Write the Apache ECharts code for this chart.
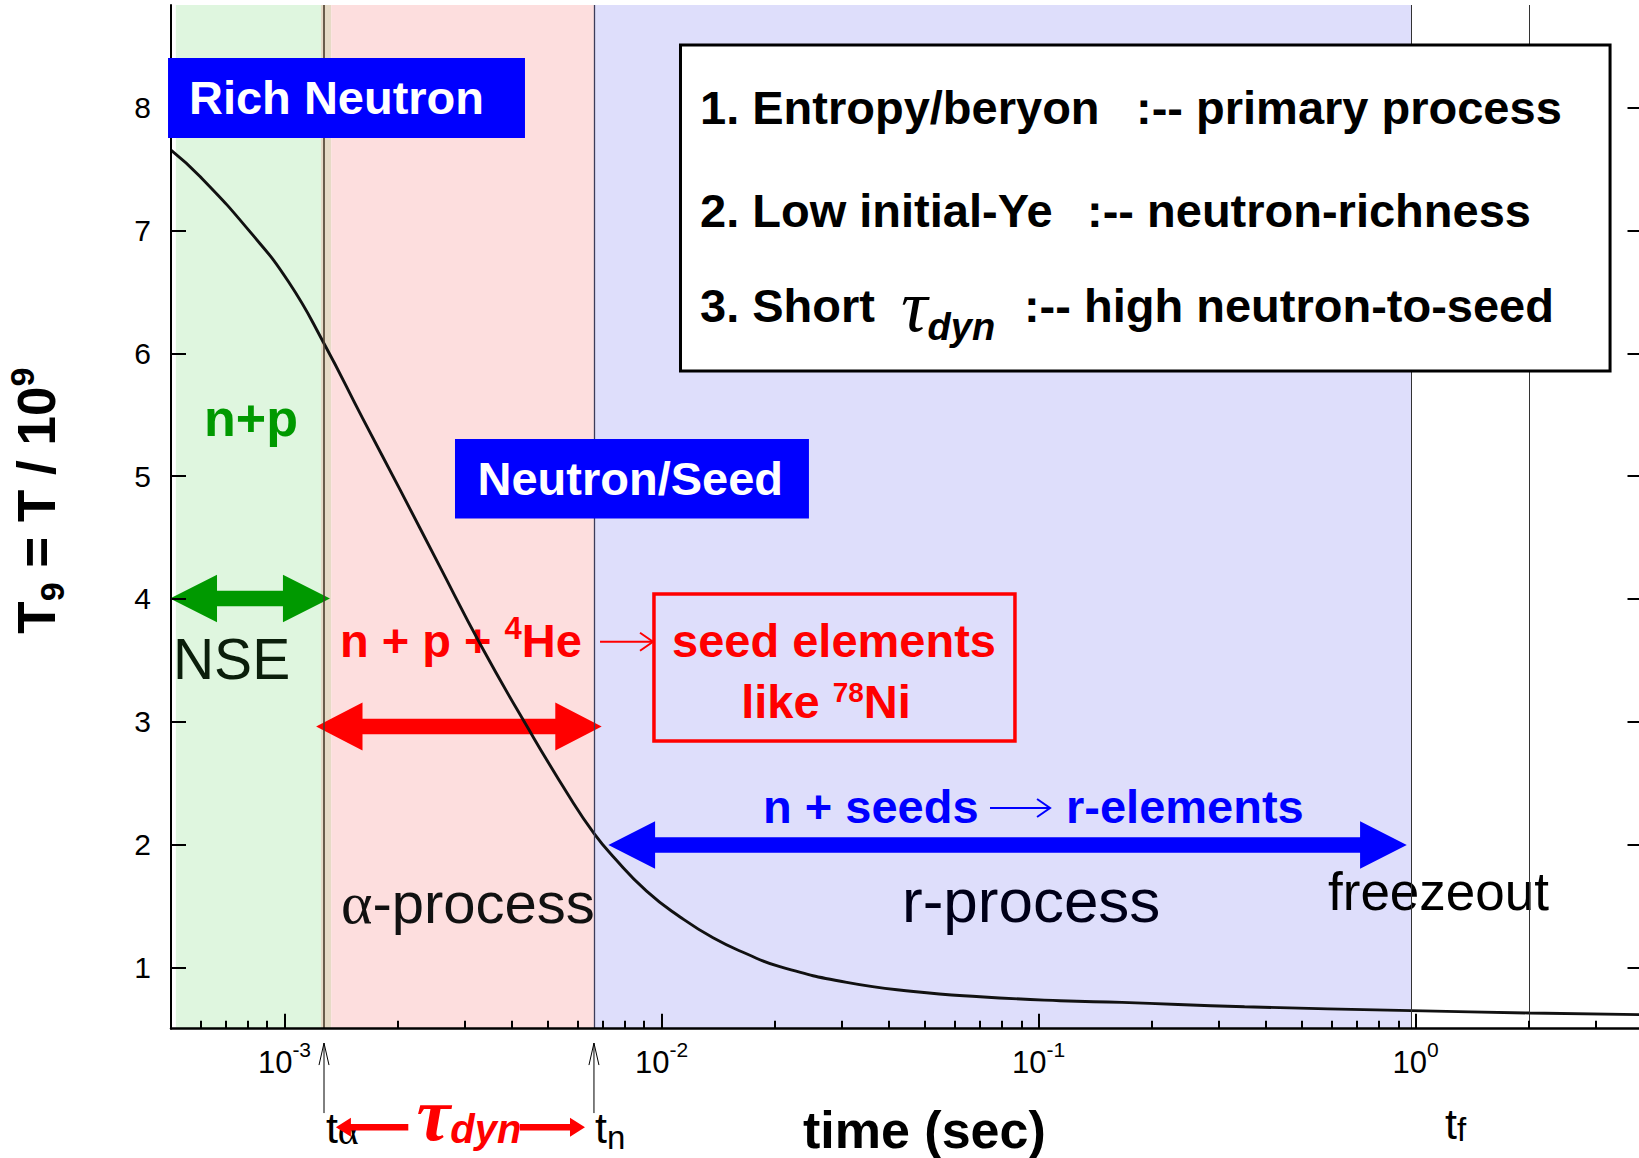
<!DOCTYPE html>
<html><head><meta charset="utf-8">
<script src="https://cdn.jsdelivr.net/npm/echarts@6/dist/echarts.min.js"></script>
<style>html,body{margin:0;padding:0;background:#fff}#c{width:1639px;height:1158px}</style>
</head><body><div id="c"></div>
<script>
// ---------------- DATA ----------------
const timeSec = [5.0e-4, 5.97e-4, 8.15e-4, 1.026e-3, 1.273e-3, 1.612e-3, 2.025e-3, 2.585e-3, 3.32e-3, 4.42e-3, 5.72e-3, 6.62e-3, 7.45e-3, 9.13e-3, 0.0112, 0.0137, 0.0168, 0.0206, 0.031, 0.0466, 0.070, 0.114, 0.1665, 0.352, 0.973, 2.0, 4.0];
const temperatureT9 = [7.655, 7.44, 6.98, 6.58, 6.08, 5.47, 4.89, 4.26, 3.62, 2.95, 2.38, 2.09, 1.90, 1.62, 1.41, 1.24, 1.11, 1.005, 0.877, 0.803, 0.760, 0.728, 0.714, 0.679, 0.647, 0.628, 0.614];
const yTickValues = [1, 2, 3, 4, 5, 6, 7, 8];
const xMajorExponents = [-3, -2, -1, 0];
const xMinorTickTimes = [6e-4, 7e-4, 8e-4, 9e-4, 2e-3, 3e-3, 4e-3, 5e-3, 6e-3, 7e-3, 8e-3, 9e-3, 0.02, 0.03, 0.04, 0.05, 0.06, 0.07, 0.08, 0.09, 0.2, 0.3, 0.4, 0.5, 0.6, 0.7, 0.8, 0.9, 2, 3];
const boundaryTimes = [1.273e-3, 6.62e-3, 0.973, 2.0];      // t_alpha, t_n, t_f, extra line
const regionTimes = [[5.15e-4, 1.25e-3], [1.25e-3, 1.33e-3], [1.33e-3, 6.62e-3], [6.62e-3, 0.973]];
const xRange = [5e-4, 4];
const yRange = [0.5, 8.836];

// ---------------- STYLES ----------------
const regionColors = ['#DFF6DF', '#E6DAC6', '#FDDEDE', '#DEDEFB'];
const boundaryStyles = [
  {color: '#4a3c2c', width: 1.6}, {color: '#3c3c5a', width: 1.3}, {color: '#333', width: 1}, {color: '#333', width: 1}
];
const SANS = '"Liberation Sans", Arial, Helvetica, sans-serif';
const SERIF = '"Liberation Serif", "Times New Roman", serif';

const chart = echarts.init(document.getElementById('c'), null, {renderer: 'svg', width: 1639, height: 1158});
const LOG_MIN = Math.log10(xRange[0]), LOG_MAX = Math.log10(xRange[1]);

const option = {
  animation: false,
  backgroundColor: '#fff',
  grid: {left: 171, right: -3.5, top: 5, bottom: 129.3, outerBoundsMode: 'none'},
  xAxis: [
    {type: 'log', logBase: 10, min: xRange[0], max: xRange[1], position: 'bottom', z: 5,
     axisLine: {show: true, onZero: false, lineStyle: {color: '#000', width: 2.5}},
     axisTick: {show: false}, axisLabel: {show: false}, splitLine: {show: false}},
    {type: 'value', min: LOG_MIN, max: LOG_MAX, position: 'bottom', z: 5,
     axisLine: {show: false, onZero: false},
     axisTick: {show: true, inside: true, length: 15, customValues: xMajorExponents, lineStyle: {color: '#000', width: 2}},
     axisLabel: {show: true, customValues: xMajorExponents, margin: 10,
       formatter: v => '{b|10}{s|' + Math.round(v) + '}',
       rich: {b: {fontSize: 31, fontFamily: SANS, color: '#000', lineHeight: 47},
              s: {fontSize: 21, fontFamily: SANS, color: '#000', lineHeight: 21, verticalAlign: 'top'}}},
     splitLine: {show: false}},
    {type: 'value', min: LOG_MIN, max: LOG_MAX, position: 'bottom', z: 5,
     axisLine: {show: false, onZero: false},
     axisTick: {show: true, inside: true, length: 8, customValues: xMinorTickTimes.map(t => Math.log10(t)), lineStyle: {color: '#000', width: 2}},
     axisLabel: {show: false}, splitLine: {show: false}}
  ],
  yAxis: [
    {type: 'value', min: yRange[0], max: yRange[1], position: 'left', z: 5,
     axisLine: {show: true, onZero: false, lineStyle: {color: '#000', width: 2}},
     axisTick: {show: true, inside: true, length: 15, customValues: yTickValues, lineStyle: {color: '#000', width: 2}},
     axisLabel: {show: true, customValues: yTickValues, margin: 20, fontSize: 30, fontFamily: SANS, color: '#000'},
     splitLine: {show: false}},
    {type: 'value', min: yRange[0], max: yRange[1], position: 'right', z: 5,
     axisLine: {show: true, onZero: false, lineStyle: {color: '#000', width: 2}},
     axisTick: {show: true, inside: true, length: 15, customValues: yTickValues, lineStyle: {color: '#000', width: 2}},
     axisLabel: {show: false}, splitLine: {show: false}}
  ],
  series: [
    {name: 'phases', type: 'line', xAxisIndex: 0, yAxisIndex: 0, z: 1, silent: true,
     data: timeSec.map((t, i) => [t, temperatureT9[i]]), showSymbol: false,
     lineStyle: {width: 0, opacity: 0},
     markArea: {silent: true, data: regionTimes.map((r, i) => [{xAxis: r[0], itemStyle: {color: regionColors[i]}}, {xAxis: r[1]}])},
     markLine: {silent: true, symbol: 'none', precision: 8, label: {show: false},
       data: boundaryTimes.map((t, i) => ({xAxis: t, lineStyle: Object.assign({type: 'solid'}, boundaryStyles[i])}))}},
    {name: 'T9', type: 'line', xAxisIndex: 0, yAxisIndex: 0, z: 4,
     data: timeSec.map((t, i) => [t, temperatureT9[i]]),
     showSymbol: false, smooth: 0.5,
     lineStyle: {color: '#111', width: 2.9}}
  ]
};
chart.setOption(option);

// ---------------- ANNOTATIONS (anchored in data coordinates) ----------------
const P = (t, v) => chart.convertToPixel({xAxisIndex: 0, yAxisIndex: 0}, [t, v]);
const G = [];
function box(a, b, style, z) {
  const p1 = P(a[0], a[1]), p2 = P(b[0], b[1]);
  G.push({type: 'rect', z: z, shape: {x: Math.min(p1[0], p2[0]), y: Math.min(p1[1], p2[1]), width: Math.abs(p2[0] - p1[0]), height: Math.abs(p2[1] - p1[1])}, style: style});
}
function txt(anchor, style, z, rot) {
  const p = P(anchor[0], anchor[1]);
  G.push({type: 'text', z: z, x: p[0], y: p[1], rotation: rot || 0, style: Object.assign({verticalAlign: 'middle', align: 'left', fontFamily: SANS}, style)});
}
function dblArrow(t1, t2, v, color, hl, hh, sh) {
  const a = P(t1, v), b = P(t2, v); const y = a[1], xL = a[0], xR = b[0];
  G.push({type: 'polygon', z: 3, shape: {points: [[xL, y], [xL + hl, y - hh], [xL + hl, y - sh], [xR - hl, y - sh], [xR - hl, y - hh], [xR, y], [xR - hl, y + hh], [xR - hl, y + sh], [xL + hl, y + sh], [xL + hl, y + hh]]}, style: {fill: color}});
}
function oneArrow(tTail, tTip, v, color, hl, hh, sh) {
  const a = P(tTail, v), b = P(tTip, v); const y = a[1]; const d = Math.sign(b[0] - a[0]);
  const base = b[0] - d * hl;
  G.push({type: 'polygon', z: 3, shape: {points: [[a[0], y - sh], [base, y - sh], [base, y - hh], [b[0], y], [base, y + hh], [base, y + sh], [a[0], y + sh]]}, style: {fill: color}});
}
function thinArrowH(t1, t2, v, color) {
  const a = P(t1, v), b = P(t2, v); const y = a[1];
  G.push({type: 'polyline', z: 3, shape: {points: [[a[0], y], [b[0], y]]}, style: {stroke: color, lineWidth: 2, fill: null}});
  G.push({type: 'polyline', z: 3, shape: {points: [[b[0] - 13, y - 9], [b[0], y], [b[0] - 13, y + 9]]}, style: {stroke: color, lineWidth: 2, fill: null}});
}
function thinArrowUp(t, v0, v1) {
  const a = P(t, v0), b = P(t, v1);
  G.push({type: 'polyline', z: 3, shape: {points: [[a[0], a[1]], [b[0], b[1]]]}, style: {stroke: '#000', lineWidth: 1, fill: null}});
  G.push({type: 'polyline', z: 3, shape: {points: [[b[0] - 5, b[1] + 22], [b[0], b[1]], [b[0] + 5, b[1] + 22]]}, style: {stroke: '#000', lineWidth: 1, fill: null}});
}

// y-axis title
txt([2.2e-4, 4.80], {align: 'center', text: '{t|T}{sub|9}{t| = T / 10}{sup|9}', rich: {
  t: {fontSize: 53, fontWeight: 'bold', fontFamily: SANS, fill: '#000', lineHeight: 64},
  sub: {fontSize: 34, fontWeight: 'bold', fontFamily: SANS, fill: '#000', lineHeight: 26, verticalAlign: 'bottom'},
  sup: {fontSize: 34, fontWeight: 'bold', fontFamily: SANS, fill: '#000', lineHeight: 26, verticalAlign: 'top'}}}, 10, Math.PI / 2);

// "Rich Neutron" box
box([4.91e-4, 8.405], [4.344e-3, 7.753], {fill: '#0000FF'}, 20);
txt([5.58e-4, 8.083], {text: 'Rich Neutron', fontSize: 47, fontWeight: 'bold', fill: '#fff'}, 21);

// legend box
box([0.01123, 8.511], [3.281, 5.856], {fill: '#fff', stroke: '#000', lineWidth: 3}, 20);
const legendLines = [['1. Entropy/beryon', 7.998, 0.1814, ':-- primary process'],
                     ['2. Low initial-Ye', 7.159, 0.1345, ':-- neutron-richness']];
legendLines.forEach(l => {
  txt([0.01265, l[1]], {text: l[0], fontSize: 47, fontWeight: 'bold', fill: '#000'}, 21);
  txt([l[2], l[1]], {text: l[3], fontSize: 47, fontWeight: 'bold', fill: '#000'}, 21);
});
txt([0.01265, 6.385], {text: '{b|3. Short  }{tau|τ}{sub|dyn}', rich: {
  b: {fontSize: 47, fontWeight: 'bold', fontFamily: SANS, fill: '#000', lineHeight: 80},
  tau: {fontSize: 74, fontStyle: 'italic', fontFamily: SERIF, fill: '#000', lineHeight: 80},
  sub: {fontSize: 38, fontStyle: 'italic', fontWeight: 'bold', fontFamily: SANS, fill: '#000', lineHeight: 34, verticalAlign: 'bottom'}}}, 21);
txt([0.0915, 6.385], {text: ':-- high neutron-to-seed', fontSize: 47, fontWeight: 'bold', fill: '#000'}, 21);

// NSE region
txt([8.15e-4, 5.473], {align: 'center', text: 'n+p', fontSize: 52, fontWeight: 'bold', fill: '#009900'}, 3);
dblArrow(4.97e-4, 1.32e-3, 4.003, '#009900', 47, 23.7, 7.8);
txt([5.06e-4, 3.507], {text: 'NSE', fontSize: 57, fill: '#0B1E0B'}, 3);

// alpha-process region
box([2.833e-3, 5.302], [0.02461, 4.655], {fill: '#0000FF'}, 20);
txt([3.25e-3, 4.98], {text: 'Neutron/Seed', fontSize: 47, fontWeight: 'bold', fill: '#fff'}, 21);
txt([1.404e-3, 3.665], {text: '{r|n + p + }{s|4}{r|He}', rich: {
  r: {fontSize: 47, fontWeight: 'bold', fontFamily: SANS, fill: '#FF0000', lineHeight: 54},
  s: {fontSize: 31, fontWeight: 'bold', fontFamily: SANS, fill: '#FF0000', lineHeight: 30, verticalAlign: 'top'}}}, 3);
thinArrowH(6.87e-3, 9.495e-3, 3.651, '#FF0000');
box([9.55e-3, 4.040], [0.0866, 2.843], {fill: null, stroke: '#FF0000', lineWidth: 3.5}, 3);
txt([0.02868, 3.665], {align: 'center', text: 'seed elements', fontSize: 47, fontWeight: 'bold', fill: '#FF0000'}, 3);
txt([0.02731, 3.161], {align: 'center', text: '{r|like }{s|78}{r|Ni}', rich: {
  r: {fontSize: 47, fontWeight: 'bold', fontFamily: SANS, fill: '#FF0000', lineHeight: 46},
  s: {fontSize: 28, fontWeight: 'bold', fontFamily: SANS, fill: '#FF0000', lineHeight: 28, verticalAlign: 'top'}}}, 3);
dblArrow(1.213e-3, 6.94e-3, 2.961, '#FF0000', 46.4, 24, 7.8);
txt([1.412e-3, 1.524], {text: '{a|α}{p|-process}', rich: {
  a: {fontSize: 60, fontFamily: SERIF, fill: '#111', lineHeight: 60},
  p: {fontSize: 58, fontFamily: SANS, fill: '#111', lineHeight: 60}}}, 3);

// r-process region
dblArrow(7.23e-3, 0.948, 1.996, '#0000FF', 46.7, 23.7, 7.8);
txt([0.01859, 2.308], {text: 'n + seeds', fontSize: 47, fontWeight: 'bold', fill: '#0000FF'}, 3);
thinArrowH(0.07436, 0.1073, 2.297, '#0000FF');
txt([0.1183, 2.308], {text: 'r-elements', fontSize: 47, fontWeight: 'bold', fill: '#0000FF'}, 3);
txt([0.04344, 1.548], {text: 'r-process', fontSize: 62, fill: '#000018'}, 3);
txt([0.586, 1.614], {text: 'freezeout', fontSize: 53, fill: '#000'}, 3);

// below-axis labels
thinArrowUp(1.273e-3, -0.187, 0.383);
thinArrowUp(6.62e-3, -0.187, 0.383);
txt([1.288e-3, -0.305], {text: '{t|t}{sub|α}', rich: {
  t: {fontSize: 43, fontFamily: SANS, fill: '#000', lineHeight: 45},
  sub: {fontSize: 40, fontFamily: SERIF, fill: '#000', lineHeight: 22, verticalAlign: 'bottom'}}}, 3);
txt([6.66e-3, -0.305], {text: '{t|t}{sub|n}', rich: {
  t: {fontSize: 43, fontFamily: SANS, fill: '#000', lineHeight: 52},
  sub: {fontSize: 33, fontFamily: SANS, fill: '#000', lineHeight: 20, verticalAlign: 'bottom'}}}, 3);
txt([1.197, -0.276], {text: '{t|t}{sub|f}', rich: {
  t: {fontSize: 43, fontFamily: SANS, fill: '#000', lineHeight: 45},
  sub: {fontSize: 33, fontFamily: SANS, fill: '#000', lineHeight: 20, verticalAlign: 'bottom'}}}, 3);
oneArrow(2.13e-3, 1.369e-3, -0.303, '#FF0000', 15, 9.5, 3.3);
oneArrow(4.213e-3, 6.267e-3, -0.303, '#FF0000', 15, 9.5, 3.3);
txt([2.24e-3, -0.194], {text: '{tau|τ}{sub|dyn}', rich: {
  tau: {fontSize: 76, fontStyle: 'italic', fontWeight: 'bold', fontFamily: SERIF, fill: '#FF0000', lineHeight: 70},
  sub: {fontSize: 40, fontStyle: 'italic', fontWeight: 'bold', fontFamily: SANS, fill: '#FF0000', lineHeight: 30, verticalAlign: 'bottom'}}}, 3);
txt([0.02373, -0.325], {text: 'time (sec)', fontSize: 52, fontWeight: 'bold', fill: '#000'}, 3);

chart.setOption({graphic: G});
</script></body></html>
